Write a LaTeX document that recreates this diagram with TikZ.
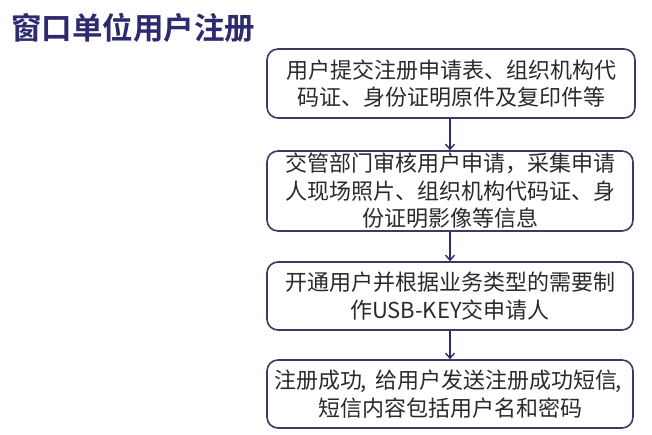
\documentclass[tikz,border=0pt]{standalone}
\usepackage{fontspec}
\setmainfont{Liberation Serif}
\newfontfamily\cjk{Noto Sans CJK SC}
\newfontfamily\cjkbold{Noto Sans CJK SC Bold}
\usetikzlibrary{arrows.meta}
\definecolor{navy}{HTML}{2D2B6E}
\definecolor{boxline}{HTML}{3A3A66}
\definecolor{txt}{HTML}{2A2A2A}
\tikzset{
  stepbox/.style={draw=boxline, line width=1.6pt, rounded corners=11pt, align=center,
    font=\cjk\fontsize{22}{27.5}\selectfont, text=txt, inner sep=0pt, fill=white},
  flow/.style={draw=navy, line width=1.4pt, -{Straight Barb[length=5pt,width=9pt]}}
}
\begin{document}
\begin{tikzpicture}[x=1pt,y=-1pt]
\useasboundingbox (0,0) rectangle (652,435);
\fill[white] (0,0) rectangle (652,435);
\node[anchor=west, text=navy, font=\cjkbold\fontsize{30.5}{33}\selectfont, inner sep=0pt] (title) at (11,28) {窗口单位用户注册};
\node[stepbox, minimum width=368pt, minimum height=69pt] (b1) at (451,83.5) {用户提交注册申请表、组织机构代\\码证、身份证明原件及复印件等};
\node[stepbox, minimum width=366pt, minimum height=80pt] (b2) at (450,191) {交管部门审核用户申请，采集申请\\人现场照片、组织机构代码证、身\\份证明影像等信息};
\node[stepbox, minimum width=366pt, minimum height=68pt] (b3) at (450,296) {开通用户并根据业务类型的需要制\\作USB-KEY交申请人};
\node[stepbox, minimum width=366pt, minimum height=68pt, text width=360pt] (b4) at (450,394) {注册成功{\kern-2pt},\kern9pt给用户发送注册成功短信{\kern-2pt},\kern4pt\\短信内容包括用户名和密码};
\draw[flow] (b1.south -| 450,0) -- (b2.north -| 450,0);
\draw[flow] (b2) -- (b3);
\draw[flow] (b3) -- (b4);
\end{tikzpicture}
\end{document}
